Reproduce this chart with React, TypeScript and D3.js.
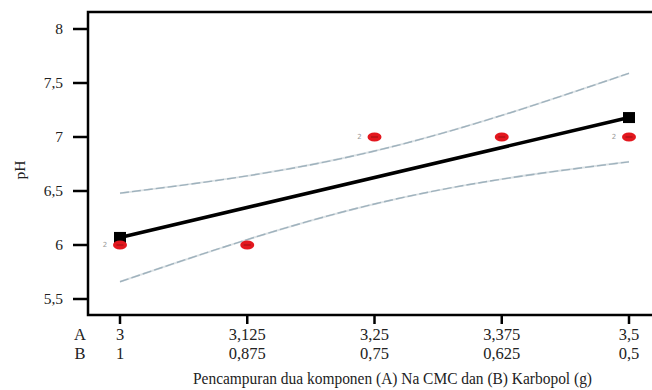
import * as d3 from "d3";

const aTicks = [3, 3.125, 3.25, 3.375, 3.5];
const aLabels = ["3", "3,125", "3,25", "3,375", "3,5"];
const bLabels = ["1", "0,875", "0,75", "0,625", "0,5"];
const yTicks = [5.5, 6, 6.5, 7, 7.5, 8];
const yLabels = ["5,5", "6", "6,5", "7", "7,5", "8"];

// design points (A, pH) and replicate counts
const pointA = [3, 3.125, 3.25, 3.375, 3.5];
const pointPH = [6, 6, 7, 7, 7];
const pointCount = [2, 1, 2, 1, 2];

// fitted line ends
const fitA = [3, 3.5];
const fitPH = [6.07, 7.18];

// 95% confidence band read at the tick positions
const bandUpper = [6.48, 6.64, 6.87, 7.2, 7.59];
const bandLower = [5.66, 6.05, 6.38, 6.61, 6.77];

const W = 652;
const H = 390;
const frame = { l: 88, t: 12, b: 315 };

export default function App() {
  const x = d3.scaleLinear().domain([3, 3.5]).range([120, 629]);
  const y = d3.scaleLinear().domain([5.5, 8]).range([299, 29]);

  const band = d3
    .line<number>()
    .x((_, i) => x(aTicks[i]))
    .y((d) => y(d))
    .curve(d3.curveNatural);

  const font = "'Liberation Serif', 'Times New Roman', serif";

  return (
    <svg
      width={W}
      height={H}
      style={{ position: "absolute", left: 0, top: 0, background: "#fff" }}
      fontFamily={font}
    >
      {/* frame */}
      <path
        d={`M${W},${frame.t}H${frame.l}V${frame.b}H${W}`}
        fill="none"
        stroke="#000"
        strokeWidth={2.5}
      />

      {/* y axis */}
      {yTicks.map((t, i) => (
        <g key={t}>
          <line x1={73} x2={frame.l} y1={y(t)} y2={y(t)} stroke="#000" strokeWidth={2.5} />
          <text x={63} y={y(t)} dy="0.35em" textAnchor="end" fontSize={15.5} fill="#222">
            {yLabels[i]}
          </text>
        </g>
      ))}
      <text
        transform={`translate(25,170) rotate(-90)`}
        textAnchor="middle"
        fontSize={15.5}
        fill="#222"
      >
        pH
      </text>

      {/* x axis */}
      {aTicks.map((t, i) => (
        <g key={t}>
          <line x1={x(t)} x2={x(t)} y1={frame.b} y2={frame.b + 9} stroke="#000" strokeWidth={2.5} />
          <text x={x(t)} y={340} textAnchor="middle" fontSize={16.5} fill="#222">
            {aLabels[i]}
          </text>
          <text x={x(t)} y={359} textAnchor="middle" fontSize={16.5} fill="#222">
            {bLabels[i]}
          </text>
        </g>
      ))}
      <text x={80} y={340} textAnchor="middle" fontSize={16.5} fill="#222">A</text>
      <text x={80} y={359} textAnchor="middle" fontSize={16.5} fill="#222">B</text>
      <text
        x={193}
        y={384}
        fontSize={16}
        fill="#222"
        textLength={399}
        lengthAdjust="spacingAndGlyphs"
      >
        Pencampuran dua komponen (A) Na CMC dan (B) Karbopol (g)
      </text>

      {/* confidence band */}
      {[bandUpper, bandLower].map((b, i) => (
        <g key={i}>
          <path d={band(b) ?? ""} fill="none" stroke="#dde3e6" strokeWidth={2} />
          <path
            d={band(b) ?? ""}
            fill="none"
            stroke="#9fb2bd"
            strokeWidth={1.4}
            strokeDasharray="9,3"
          />
        </g>
      ))}

      {/* fitted line */}
      <line
        x1={x(fitA[0])}
        y1={y(fitPH[0])}
        x2={x(fitA[1])}
        y2={y(fitPH[1])}
        stroke="#000"
        strokeWidth={3.5}
      />
      {fitA.map((a, i) => (
        <rect
          key={a}
          x={x(a) - 6}
          y={y(fitPH[i]) - 5.5}
          width={12}
          height={11}
          fill="#000"
        />
      ))}

      {/* design points */}
      {pointA.map((a, i) => (
        <g key={a}>
          <ellipse cx={x(a)} cy={y(pointPH[i])} rx={7} ry={4.5} fill="#e3171e" />
          <line
            x1={x(a) - 3.5}
            x2={x(a) + 3.5}
            y1={y(pointPH[i])}
            y2={y(pointPH[i])}
            stroke="#8a1010"
            strokeWidth={0.8}
          />
          {pointCount[i] > 1 && (
            <text
              x={x(a) - 15}
              y={y(pointPH[i])}
              dy="0.35em"
              textAnchor="middle"
              fontSize={7}
              fontFamily="'DejaVu Sans', sans-serif"
              fill="#999"
            >
              {pointCount[i]}
            </text>
          )}
        </g>
      ))}
    </svg>
  );
}
